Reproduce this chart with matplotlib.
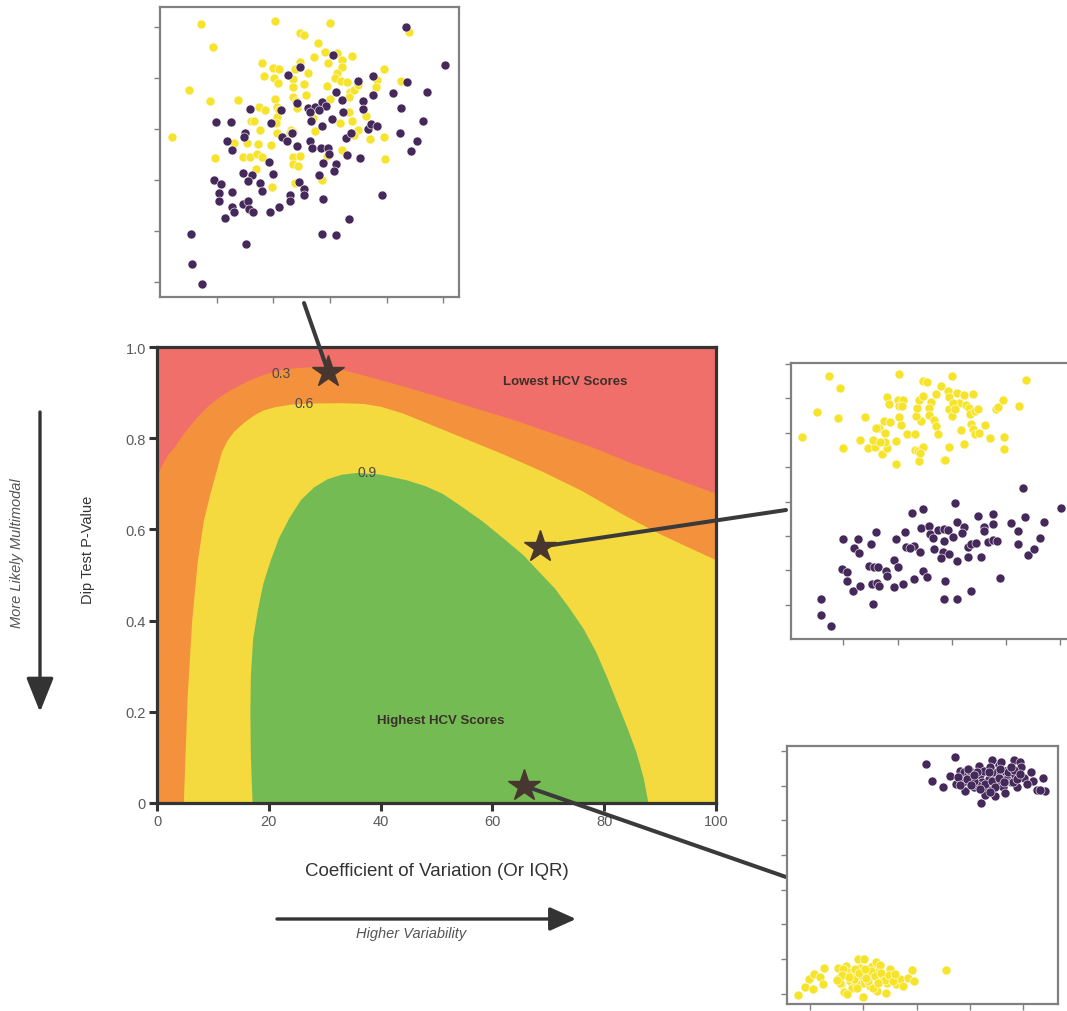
import matplotlib
matplotlib.use('Agg')
import matplotlib.pyplot as plt

plt.rcParams['font.family'] = ['Liberation Sans', 'DejaVu Sans']

FIG_W, FIG_H = 1067, 1012

# HCV score bands: boundaries read as (coefficient of variation, dip p-value)
band_03_x = [0, 1, 2, 3, 5, 7, 9, 11, 13, 16, 19, 22, 25, 28, 31, 34, 38, 43, 50, 57, 64, 71, 78, 85, 92, 100]
band_03_y = [0.72, 0.745, 0.765, 0.78, 0.815, 0.845, 0.87, 0.89, 0.905, 0.925, 0.94, 0.95, 0.955, 0.957,
             0.955, 0.948, 0.935, 0.918, 0.893, 0.866, 0.84, 0.81, 0.78, 0.745, 0.715, 0.679]

band_06_x = [4.7, 5.0, 5.4, 6.2, 7.2, 8.3, 9.4, 10.5, 11.5, 12.5, 13.7, 15.5, 17.3, 19, 21, 24, 27, 33, 37,
             40, 44, 50, 55, 62, 69, 76, 83.5, 90, 100]
band_06_y = [0.0, 0.1, 0.236, 0.4, 0.53, 0.62, 0.676, 0.725, 0.77, 0.795, 0.815, 0.835, 0.851, 0.862, 0.869,
             0.875, 0.877, 0.878, 0.876, 0.87, 0.855, 0.825, 0.8, 0.765, 0.727, 0.685, 0.632, 0.59, 0.533]

band_09_x = [17.1, 16.8, 16.7, 16.8, 17.2, 18.0, 19.0, 20.3, 21.8, 23.7, 25.8, 28.1, 30.5, 33.1, 36, 40, 44.6,
             48, 51.1, 54.5, 58.3, 62, 65.5, 68.5, 71.2, 73.8, 76.3, 78.6, 80.6, 82.5, 84.2, 85.8, 87.1, 87.9]
band_09_y = [0.0, 0.1, 0.2, 0.28, 0.36, 0.42, 0.48, 0.53, 0.58, 0.625, 0.665, 0.692, 0.71, 0.72, 0.724, 0.72,
             0.708, 0.695, 0.678, 0.65, 0.617, 0.58, 0.544, 0.505, 0.47, 0.427, 0.382, 0.33, 0.273, 0.215,
             0.163, 0.11, 0.053, 0.0]

band_labels = ['0.3', '0.6', '0.9']
band_label_x = [22.2, 26.3, 37.6]
band_label_y = [0.944, 0.877, 0.725]

# the three example datasets shown in the side panels
star_x = [30.6, 68.6, 65.6]
star_y = [0.946, 0.562, 0.038]

x_ticks = [0, 20, 40, 60, 80, 100]
y_ticks = [0, 0.2, 0.4, 0.6, 0.8, 1.0]
y_tick_labels = ['0', '0.2', '0.4', '0.6', '0.8', '1.0']

# panel 1 - overlapping groups
top_yellow = [
    (-2.28, 3.06), (-0.97, 3.12), (0.01, 3.08), (-2.07, 2.61), (-0.52, 2.88), (-0.46, 2.84), (-0.21, 2.68),
    (1.39, 2.90), (-2.49, 1.76), (-2.12, 1.54), (-1.63, 1.56), (-2.79, 0.84), (-1.19, 2.29), (-1.16, 2.04),
    (-1.01, 2.19), (-0.90, 2.17), (-0.98, 1.99), (-0.92, 1.90), (-0.52, 2.32), (-0.61, 2.18), (-0.66, 1.98),
    (-0.38, 2.10), (-0.28, 2.42), (-0.08, 2.50), (-0.04, 2.29), (0.12, 2.48), (0.22, 2.35), (0.21, 2.22),
    (0.13, 2.10), (0.09, 1.99), (0.20, 1.95), (0.31, 1.92), (0.39, 2.43), (-0.45, 1.88), (-0.42, 1.67),
    (-0.66, 1.62), (-0.65, 1.83), (-0.05, 1.84), (0.01, 1.58), (0.36, 1.73), (0.34, 1.63), (0.43, 1.76),
    (0.49, 1.86), (0.83, 1.96), (0.81, 1.83), (0.96, 2.17), (1.25, 1.95), (-0.97, 1.58), (-0.93, 1.44),
    (-0.90, 1.37), (-1.26, 1.44), (-1.15, 1.37), (-0.58, 1.42), (-0.59, 1.54), (-1.39, 1.16), (-1.34, 1.16),
    (-0.94, 1.23), (-0.95, 1.11), (-0.93, 0.92), (-1.24, 0.99), (-0.69, 0.98), (-0.66, 0.94), (-0.26, 0.97),
    (0.18, 1.11), (0.39, 1.16), (0.34, 1.33), (0.49, 0.98), (0.43, 0.88), (0.63, 1.25), (0.71, 0.80),
    (0.96, 0.84), (0.97, 0.41), (0.22, 0.59), (-0.05, 0.48), (-0.14, 0.00), (-1.69, 0.72), (-2.02, 0.44),
    (-1.47, 0.73), (-1.54, 0.46), (-1.41, 0.46), (-1.27, 0.70), (-1.29, 0.52), (-1.20, 0.46), (-1.04, 0.69),
    (-0.65, 0.46), (-0.52, 0.47), (-0.66, 0.31), (-0.56, 0.28), (-1.31, 0.22), (-1.02, -0.14), (-0.61, -0.06),
    (-0.29, 1.21), (-0.71, 0.93),
]
top_purple = [
    (1.34, 2.99), (2.04, 2.25), (0.05, 2.45), (-0.53, 2.22), (-0.74, 2.06), (0.50, 1.95), (0.76, 2.03),
    (1.36, 1.92), (0.10, 1.73), (0.21, 1.57), (0.59, 1.55), (0.77, 1.67), (1.11, 1.71), (1.71, 1.73),
    (-1.41, 1.39), (-0.87, 1.37), (-0.58, 1.50), (-0.39, 1.42), (-0.26, 1.44), (-0.14, 1.52), (-0.06, 1.45),
    (-0.36, 1.34), (-0.19, 1.37), (-2.01, 1.13), (-1.74, 1.13), (-1.04, 1.11), (-0.34, 1.16), (-0.14, 1.06),
    (0.04, 1.20), (0.23, 1.34), (0.59, 1.39), (1.25, 1.42), (1.64, 1.16), (-1.50, 0.93), (-1.51, 0.85),
    (-1.81, 0.76), (-1.73, 0.59), (-0.84, 0.85), (-0.75, 0.77), (-0.67, 0.93), (-0.58, 0.67), (-0.35, 0.77),
    (-0.31, 0.63), (-0.16, 0.63), (-0.03, 0.62), (-0.02, 0.52), (0.29, 0.82), (0.37, 0.93), (0.67, 1.01),
    (0.73, 1.10), (0.83, 1.05), (1.23, 0.92), (1.54, 0.76), (1.44, 0.56), (0.31, 0.49), (0.54, 0.44),
    (-1.07, 0.36), (-0.12, 0.34), (0.11, 0.31), (0.08, 0.18), (-2.04, 0.01), (-1.92, -0.08), (-1.95, -0.25),
    (-1.95, -0.41), (-1.73, -0.24), (-1.53, 0.13), (-1.38, 0.10), (-1.45, -0.02), (-1.23, -0.05), (-1.20, -0.21),
    (-1.01, 0.11), (-0.54, -0.03), (-0.45, -0.17), (-0.45, -0.29), (-0.20, 0.10), (-0.71, -0.29), (-0.70, -0.41),
    (-0.90, -0.52), (-1.73, -0.52), (-1.70, -0.63), (-1.85, -0.75), (-1.53, -0.47), (-1.45, -0.41),
    (-1.42, -0.56), (-1.36, -0.63), (-1.06, -0.63), (-0.12, -0.38), (0.34, -0.76), (0.92, -0.30),
    (-2.45, -1.06), (-1.48, -1.26), (-0.14, -1.06), (0.11, -1.08), (-2.43, -1.65), (-2.25, -2.04),
]

# panel 2 - two groups, separated vertically
mid_yellow = [
    (-2.26, 3.65), (-0.97, 3.70), (0.01, 3.66), (1.38, 3.53), (-2.06, 3.29), (-0.52, 3.51), (-0.46, 3.48),
    (-2.48, 2.61), (-2.10, 2.44), (-2.76, 1.89), (-2.00, 1.55), (-1.61, 2.46), (-1.69, 1.79), (-1.54, 1.57),
    (-1.41, 1.58), (-1.29, 1.39), (-1.19, 1.55), (-1.19, 3.04), (-1.15, 2.85), (-1.00, 2.96), (-0.89, 2.95),
    (-0.97, 2.78), (-0.91, 2.77), (-1.25, 2.34), (-1.14, 2.30), (-1.35, 2.15), (-1.40, 2.15), (-1.46, 1.80),
    (-1.23, 2.00), (-1.24, 1.74), (-1.32, 1.73), (-1.02, 1.76), (-0.98, 2.46), (-0.94, 2.24), (-0.83, 1.96),
    (-0.67, 1.97), (-1.02, 1.09), (-0.60, 1.17), (-0.67, 1.50), (-0.62, 1.46), (-0.53, 1.58), (-0.58, 1.41),
    (-0.56, 2.33), (-0.66, 2.48), (-0.64, 2.71), (-0.61, 2.94), (-0.52, 3.06), (-0.38, 2.89), (-0.42, 2.72),
    (-0.41, 2.53), (-0.32, 2.36), (-0.28, 2.19), (-0.25, 1.97), (-0.28, 3.14), (-0.20, 3.35), (-0.07, 3.22),
    (-0.04, 3.04), (-0.05, 2.68), (0.00, 2.49), (0.10, 3.17), (0.14, 2.87), (0.22, 3.11), (0.27, 2.80),
    (0.33, 2.73), (0.39, 3.14), (0.34, 2.56), (0.44, 2.63), (0.49, 2.69), (0.35, 2.26), (0.39, 2.12),
    (0.43, 1.95), (0.50, 1.99), (0.62, 2.23), (0.71, 1.85), (0.96, 1.88), (0.96, 1.52), (0.82, 2.69),
    (0.85, 2.76), (0.95, 2.94), (1.24, 2.77), (-0.05, 1.58), (-0.15, 1.21), (-0.13, 1.20), (0.22, 1.68),
    (0.18, 2.09), (0.03, 2.88), (0.07, 2.70),
]
mid_purple = [
    (1.32, 0.40), (0.06, -0.03), (2.03, -0.18), (-0.53, -0.21), (-0.73, -0.34), (-2.00, -1.08), (-1.73, -1.08),
    (-1.40, -0.88), (-1.80, -1.35), (-1.72, -1.51), (-1.49, -1.25), (-1.02, -1.10), (-0.86, -0.89),
    (-2.02, -1.96), (-1.93, -2.06), (-1.94, -2.30), (-1.83, -2.59), (-1.69, -2.45), (-1.52, -1.87),
    (-1.43, -1.91), (-1.36, -1.91), (-1.48, -2.40), (-1.38, -2.38), (-1.35, -2.47), (-1.22, -2.01),
    (-1.20, -2.16), (-1.06, -1.70), (-1.00, -1.90), (-1.06, -2.48), (-0.90, -2.40), (-0.84, -1.31),
    (-0.70, -1.28), (-0.77, -1.36), (-0.58, -1.46), (-0.70, -2.26), (-0.53, -2.01), (-0.45, -2.19),
    (-0.57, -0.78), (-0.42, -0.72), (-0.40, -0.94), (-0.26, -0.82), (-0.15, -0.80), (-0.06, -0.82),
    (-0.35, -1.06), (-0.32, -1.38), (-0.15, -1.14), (-0.16, -1.48), (-0.04, -1.53), (-0.20, -1.64),
    (-0.12, -2.30), (-0.14, -2.83), (0.10, -2.83), (0.10, -1.74), (0.03, -1.02), (0.10, -0.60),
    (0.22, -0.73), (0.20, -0.92), (0.30, -1.33), (0.35, -1.23), (0.46, -1.21), (0.30, -1.60),
    (0.54, -1.62), (0.35, -2.59), (0.49, -0.43), (0.59, -0.73), (0.59, -0.85), (0.76, -0.36),
    (0.77, -0.65), (0.67, -1.17), (0.76, -1.12), (0.83, -1.16), (0.90, -2.23), (1.10, -0.62),
    (1.23, -0.85), (1.22, -1.25), (1.36, -0.46), (1.42, -1.55), (1.53, -1.38), (1.63, -1.07),
    (1.70, -0.60), (-2.42, -2.84), (-2.41, -3.30), (-2.23, -3.62), (-1.46, -2.99),
]

# panel 3 - two tight, well separated groups
low_purple = [
    (0.17, 3.64), (0.71, 3.83), (0.29, 3.13), (0.49, 2.98), (0.63, 3.28), (0.73, 3.04), (0.82, 3.44),
    (0.88, 3.39), (0.91, 2.86), (0.96, 3.32), (1.00, 3.44), (1.03, 3.15), (1.08, 2.96), (1.16, 3.57),
    (1.19, 3.30), (1.22, 3.11), (1.27, 3.44), (1.32, 2.91), (1.35, 3.20), (1.42, 3.75), (1.44, 3.39),
    (1.47, 2.72), (1.50, 3.11), (1.54, 3.59), (1.57, 3.30), (1.59, 3.70), (1.62, 2.96), (1.66, 3.44),
    (1.69, 3.20), (1.72, 3.39), (1.76, 3.11), (1.82, 3.76), (1.85, 3.30), (1.88, 2.96), (1.93, 3.68),
    (1.96, 3.54), (2.01, 3.22), (2.14, 3.39), (2.19, 3.15), (2.26, 2.89), (2.36, 3.23), (2.41, 2.86),
    (2.31, 2.89), (1.21, 2.50), (1.65, 2.79), (0.87, 3.11), (1.13, 3.01), (0.97, 3.49), (1.38, 3.54),
    (1.80, 3.11), (2.06, 3.06), (1.29, 2.74), (1.08, 3.15), (0.78, 3.25), (0.94, 3.20), (1.13, 3.39),
    (1.29, 3.05), (1.41, 3.15), (1.47, 2.96), (1.54, 3.22), (1.63, 3.11), (1.19, 2.91), (1.02, 3.01),
    (1.35, 3.39), (1.82, 3.47), (1.89, 3.20), (0.82, 3.01), (1.07, 3.30), (1.38, 2.82), (1.57, 3.49),
    (1.76, 3.54), (1.94, 3.35),
]
low_yellow = [
    (-2.23, -3.05), (-2.09, -2.80), (-1.94, -2.87), (-2.01, -2.58), (-1.93, -2.44), (-1.81, -2.51),
    (-1.76, -2.73), (-1.74, -2.27), (-1.47, -2.27), (-1.45, -2.54), (-1.41, -2.73), (-1.37, -2.95),
    (-1.33, -2.20), (-1.29, -2.39), (-1.25, -2.63), (-1.22, -2.83), (-1.10, -1.99), (-0.99, -1.99),
    (-1.07, -2.25), (-1.03, -2.49), (-1.00, -2.68), (-1.00, -3.11), (-0.93, -2.44), (-0.88, -2.78),
    (-0.83, -2.20), (-0.76, -2.08), (-0.74, -2.39), (-0.70, -2.58), (-0.74, -2.92), (-0.68, -2.18),
    (-0.63, -2.49), (-0.56, -2.68), (-0.58, -2.97), (-0.50, -2.30), (-0.44, -2.54), (-0.39, -2.73),
    (-0.31, -2.58), (-0.25, -2.78), (-0.16, -2.54), (-0.09, -2.31), (-0.05, -2.63), (0.55, -2.31),
    (-1.38, -2.30), (-1.19, -2.44), (-1.13, -2.68), (-1.43, -2.70), (-1.30, -3.02), (-0.91, -2.63),
    (-0.82, -2.83), (-1.16, -2.30), (-1.40, -2.45), (-1.18, -2.58), (-1.08, -2.40), (-0.95, -2.55),
    (-0.86, -2.35), (-0.78, -2.50), (-0.66, -2.40), (-0.60, -2.62), (-0.52, -2.45), (-1.27, -2.52),
    (-1.50, -2.60), (-0.97, -2.30), (-0.72, -2.70), (-0.45, -2.65), (-1.12, -2.85), (-0.40, -2.42),
]


def fig_box(left, top, right, bottom):
    # pixel box -> figure fraction rect
    return [left / FIG_W, 1 - bottom / FIG_H, (right - left) / FIG_W, (bottom - top) / FIG_H]


def fig_pt(x, y):
    return (x / FIG_W, 1 - y / FIG_H)


def draw_panel(fig, box, yellow, purple, xlim, ylim, xticks, yticks):
    ax = fig.add_axes(box)
    for pts, col in [(yellow, '#f6e42c'), (purple, '#46295b')]:
        xs = [p[0] for p in pts]
        ys = [p[1] for p in pts]
        ax.scatter(xs, ys, s=42, c=col, edgecolors='white', linewidths=0.4, zorder=3)
    ax.set_xlim(*xlim)
    ax.set_ylim(*ylim)
    ax.set_xticks(xticks)
    ax.set_yticks(yticks)
    ax.tick_params(direction='out', length=4, width=1, color='#808080',
                   labelbottom=False, labelleft=False)
    for sp in ax.spines.values():
        sp.set_color('#808080')
        sp.set_linewidth(1.6)
    return ax


def draw_main(fig):
    ax = fig.add_axes(fig_box(157, 348, 716, 804))
    ax.set_facecolor('#f16f6b')
    ax.fill_between(band_03_x, 0, band_03_y, color='#f4913c', lw=0, zorder=1)
    ax.fill_between(band_06_x, 0, band_06_y, color='#f4d93f', lw=0, zorder=1)
    ax.fill(band_09_x, band_09_y, color='#75bb53', lw=0, zorder=1)

    for lab, lx, ly in zip(band_labels, band_label_x, band_label_y):
        ax.text(lx, ly, lab, fontsize=10, color='#4a4a4a', ha='center', va='center', zorder=2)

    ax.text(73, 0.925, 'Lowest HCV Scores', fontsize=9.5, fontweight='bold', color='#3b302b',
            ha='center', va='center', zorder=2)
    ax.text(50.7, 0.183, 'Highest HCV Scores', fontsize=9.5, fontweight='bold', color='#3b302b',
            ha='center', va='center', zorder=2)

    ax.set_xlim(0, 100)
    ax.set_ylim(0, 1)
    ax.set_xticks(x_ticks)
    ax.set_yticks(y_ticks)
    ax.set_yticklabels(y_tick_labels)
    ax.tick_params(direction='out', length=6, width=2.2, color='#333333', labelcolor='#5a5a5a',
                   labelsize=10.5, pad=2)
    for sp in ax.spines.values():
        sp.set_color('#333333')
        sp.set_linewidth(2.3)
        sp.set_zorder(4)
    return ax


def main():
    fig = plt.figure(figsize=(FIG_W / 100, FIG_H / 100), dpi=100)
    fig.patch.set_facecolor('white')

    #
    # Step 01 - the score map
    #
    ax = draw_main(fig)

    #
    # Step 02 - the example datasets
    #
    draw_panel(fig, fig_box(160, 8, 459, 298), top_yellow, top_purple,
               (-3.0, 2.28), (-2.29, 3.39), [-2, -1, 0, 1, 2], [-2, -1, 0, 1, 2, 3])
    draw_panel(fig, fig_box(791, 364, 1076, 640), mid_yellow, mid_purple,
               (-2.97, 2.3), (-4.0, 4.03), [-2, -1, 0, 1, 2], [-3, -2, -1, 0, 1, 2, 3, 4])
    draw_panel(fig, fig_box(787, 747, 1058, 1005), low_yellow, low_purple,
               (-2.43, 2.65), (-3.3, 4.15), [-2, -1, 0, 1, 2], [-3, -2, -1, 0, 1, 2, 3, 4])

    # connector lines from each panel to its star
    ends = [fig_pt(304, 304), fig_pt(786, 511), fig_pt(786, 878)]
    for sx, sy, end in zip(star_x, star_y, ends):
        ax.annotate('', xy=(sx, sy), xycoords='data', xytext=end, textcoords='figure fraction',
                    arrowprops=dict(arrowstyle='-', lw=2.9, color='#3a3a3a', shrinkA=0, shrinkB=0),
                    annotation_clip=False, zorder=5)
    ax.plot(star_x, star_y, linestyle='none', marker='*', markersize=24, color='#47372f',
            markeredgecolor='#47372f', clip_on=False, zorder=6)

    #
    # Step 03 - labels and direction arrows
    #
    fig.text(*fig_pt(437, 872), 'Coefficient of Variation (Or IQR)', fontsize=13.5, color='#333333',
             ha='center', va='center')
    fig.text(*fig_pt(88, 550), 'Dip Test P-Value', fontsize=10.5, color='#333333', rotation=90,
             ha='center', va='center')
    fig.text(*fig_pt(17, 553), 'More Likely Multimodal', fontsize=10.5, style='italic', color='#555555',
             rotation=90, ha='center', va='center')
    fig.text(*fig_pt(411, 934), 'Higher Variability', fontsize=10.5, style='italic', color='#555555',
             ha='center', va='center')

    arrow = dict(arrowstyle='-|>,head_length=1.05,head_width=0.42', lw=2.4, color='#333333',
                 mutation_scale=20, shrinkA=0, shrinkB=0)
    ax.annotate('', xy=fig_pt(40, 713), xycoords='figure fraction',
                xytext=fig_pt(40, 413), textcoords='figure fraction', arrowprops=arrow)
    arrow2 = dict(arrow, arrowstyle='-|>,head_length=0.8,head_width=0.36')
    ax.annotate('', xy=fig_pt(576, 920), xycoords='figure fraction',
                xytext=fig_pt(277, 920), textcoords='figure fraction', arrowprops=arrow2)

    fig.savefig('out.png', dpi=100)


if __name__ == '__main__':
    main()
